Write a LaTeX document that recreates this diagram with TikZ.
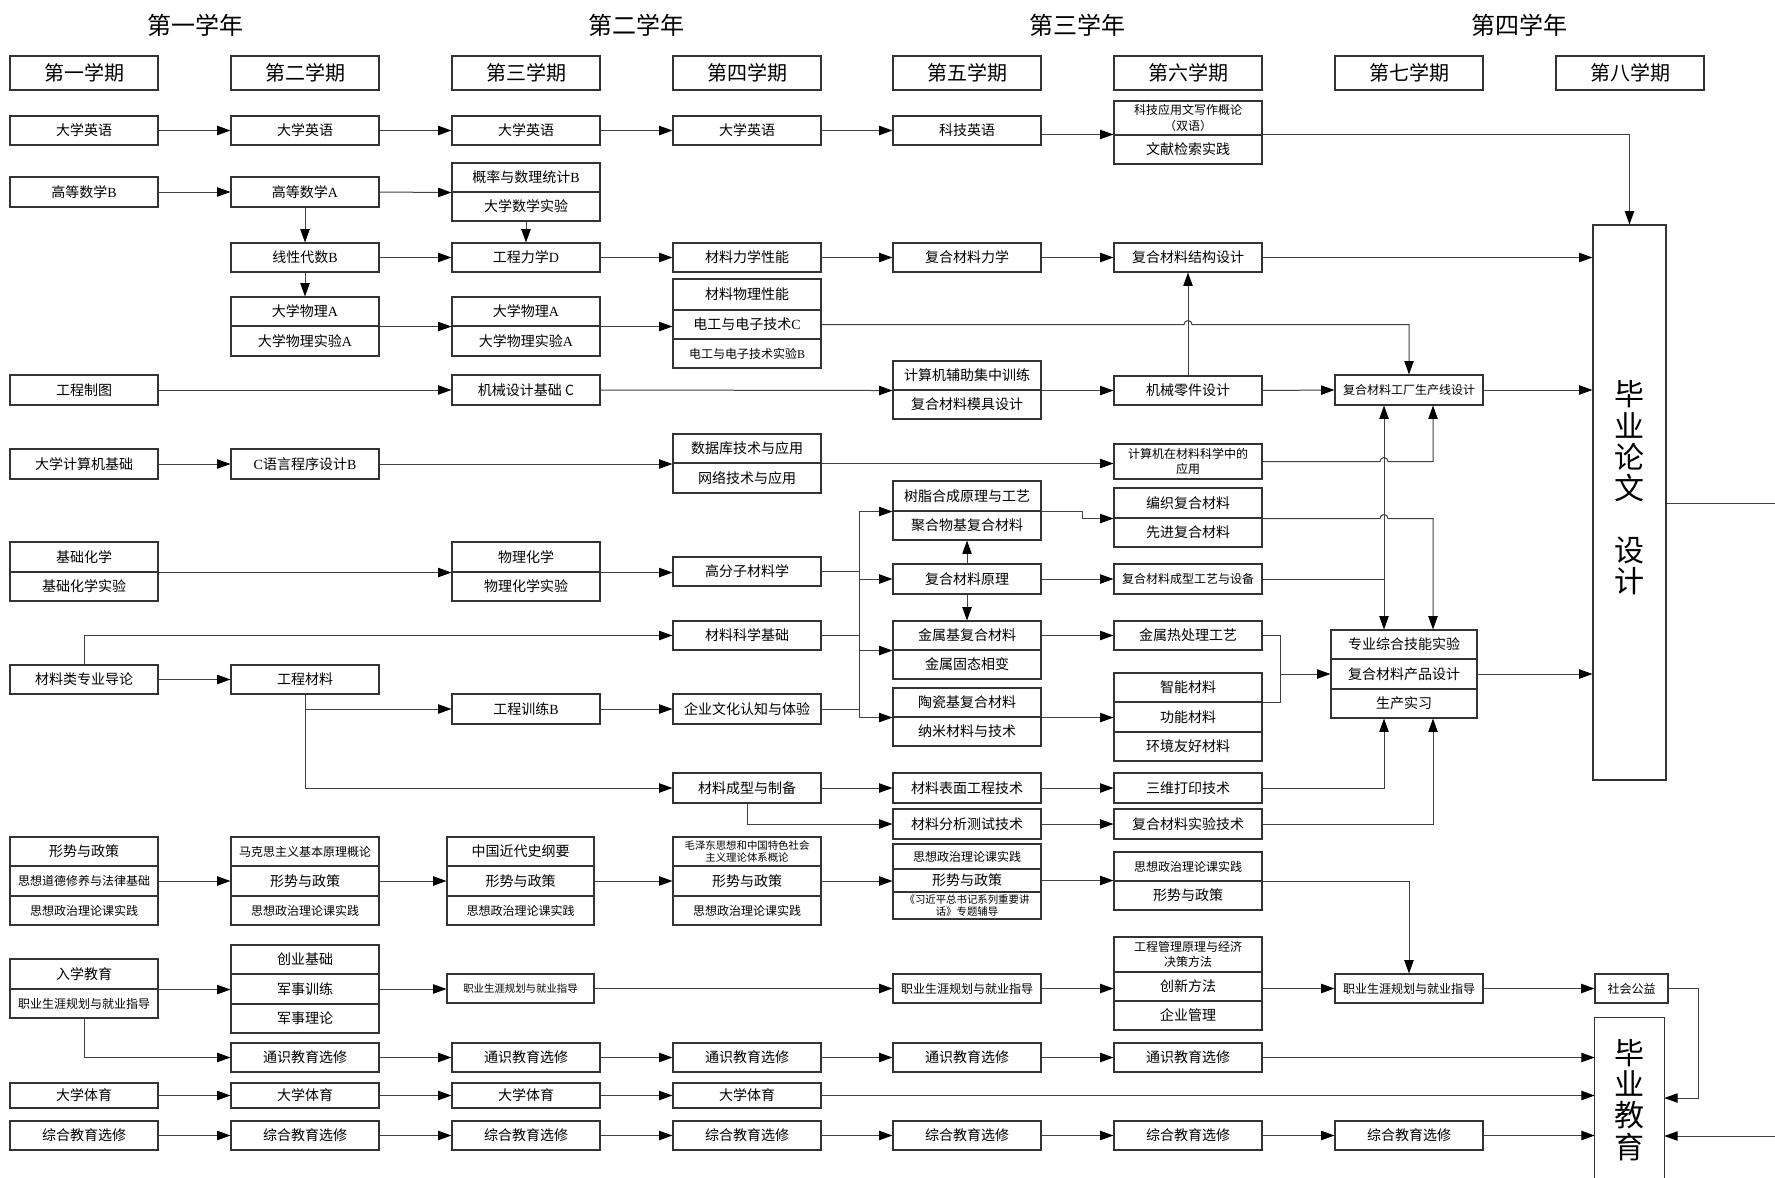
\documentclass[tikz,border=0pt]{standalone}
\usepackage{fontspec}
\setmainfont{Noto Sans CJK SC}
\newfontfamily\latf{Liberation Serif}
\newcommand\latn[1]{{\latf #1}}
\usetikzlibrary{arrows.meta,calc}
\tikzset{
  cb/.style={draw=black!80,line width=0.8pt,inner sep=0pt,align=center},
  fm/.style={font=\fontsize{10.5pt}{12.5pt}\selectfont},
  fs/.style={font=\fontsize{9pt}{11.5pt}\selectfont},
  ft/.style={font=\fontsize{7.8pt}{9.4pt}\selectfont},
  fh/.style={font=\fontsize{15pt}{18pt}\selectfont},
  fy/.style={font=\fontsize{18pt}{21pt}\selectfont},
  fth/.style={font=\fontsize{22.5pt}{23.4pt}\selectfont,align=center,inner sep=0pt},
  arr/.style={draw=black!75,line width=0.75pt,-{Triangle[length=10pt,width=7pt,color=black]}},
  ln/.style={draw=black!75,line width=0.75pt},
}
\newcommand\bx[7][148]{\node[cb,#6,minimum width={#1*0.75pt},minimum height={(#5-#4)*0.75pt}] (#2) at ({#3+#1/2},{(#4+#5)/2}) {#7};}
\begin{document}
\begin{tikzpicture}[x=0.75pt,y=-0.75pt]
\useasboundingbox (0,0) rectangle (1775,1178);
% years
\node[fy] (y1) at (195,25) {第一学年};
\node[fy] (y2) at (636,25) {第二学年};
\node[fy] (y3) at (1077,25) {第三学年};
\node[fy] (y4) at (1519,25) {第四学年};
% semesters
\bx{h1}{10}{56}{90}{fh}{第一学期}
\bx{h2}{231}{56}{90}{fh}{第二学期}
\bx{h3}{452}{56}{90}{fh}{第三学期}
\bx{h4}{673}{56}{90}{fh}{第四学期}
\bx{h5}{893}{56}{90}{fh}{第五学期}
\bx{h6}{1114}{56}{90}{fh}{第六学期}
\bx{h7}{1335}{56}{90}{fh}{第七学期}
\bx{h8}{1556}{56}{90}{fh}{第八学期}
% english
\bx{e1}{10}{116}{145}{fm}{大学英语}
\bx{e2}{231}{116}{145}{fm}{大学英语}
\bx{e3}{452}{116}{145}{fm}{大学英语}
\bx{e4}{673}{116}{145}{fm}{大学英语}
\bx{e5}{893}{116}{145}{fm}{科技英语}
\bx{e6a}{1114}{101}{135}{fs}{科技应用文写作概论\\（双语）}
\bx{e6b}{1114}{135}{164}{fm}{文献检索实践}
% math / mechanics / physics
\bx{m1}{10}{177}{207}{fm}{高等数学\latn{B}}
\bx{m2}{231}{177}{207}{fm}{高等数学\latn{A}}
\bx{m3a}{452}{163}{192}{fm}{概率与数理统计\latn{B}}
\bx{m3b}{452}{192}{221}{fm}{大学数学实验}
\bx{la2}{231}{243}{272}{fm}{线性代数\latn{B}}
\bx{me3}{452}{243}{272}{fm}{工程力学\latn{D}}
\bx{me4}{673}{243}{272}{fm}{材料力学性能}
\bx{me5}{893}{243}{272}{fm}{复合材料力学}
\bx{me6}{1114}{243}{272}{fm}{复合材料结构设计}
\bx{ph2a}{231}{297}{326}{fm}{大学物理\latn{A}}
\bx{ph2b}{231}{326}{356}{fm}{大学物理实验\latn{A}}
\bx{ph3a}{452}{297}{326}{fm}{大学物理\latn{A}}
\bx{ph3b}{452}{326}{356}{fm}{大学物理实验\latn{A}}
\bx{ph4a}{673}{279}{310}{fm}{材料物理性能}
\bx{ph4b}{673}{310}{339}{fm}{电工与电子技术\latn{C}}
\bx{ph4c}{673}{339}{368}{fs}{电工与电子技术实验\latn{B}}
% drawing
\bx{d1}{10}{375}{405}{fm}{工程制图}
\bx{d3}{452}{375}{405}{fm}{机械设计基础 C}
\bx{d5a}{893}{361}{390}{fm}{计算机辅助集中训练}
\bx{d5b}{893}{390}{419}{fm}{复合材料模具设计}
\bx{d6}{1114}{376}{405}{fm}{机械零件设计}
\bx{fa7}{1335}{375}{405}{fs}{复合材料工厂生产线设计}
% computer
\bx{c1}{10}{449}{479}{fm}{大学计算机基础}
\bx{c2}{231}{449}{479}{fm}{\latn{C}语言程序设计\latn{B}}
\bx{c4a}{673}{434}{463}{fm}{数据库技术与应用}
\bx{c4b}{673}{463}{493}{fm}{网络技术与应用}
\bx{c6}{1114}{444}{479}{fs}{计算机在材料科学中的\\应用}
% materials
\bx{r5a}{893}{481}{511}{fm}{树脂合成原理与工艺}
\bx{r5b}{893}{511}{540}{fm}{聚合物基复合材料}
\bx{r6a}{1114}{488}{518}{fm}{编织复合材料}
\bx{r6b}{1114}{518}{547}{fm}{先进复合材料}
\bx{k1a}{10}{542}{572}{fm}{基础化学}
\bx{k1b}{10}{572}{601}{fm}{基础化学实验}
\bx{k3a}{452}{542}{572}{fm}{物理化学}
\bx{k3b}{452}{572}{601}{fm}{物理化学实验}
\bx{po4}{673}{557}{586}{fm}{高分子材料学}
\bx{cp5}{893}{564}{594}{fm}{复合材料原理}
\bx{cp6}{1114}{564}{594}{fs}{复合材料成型工艺与设备}
\bx{ms4}{673}{621}{650}{fm}{材料科学基础}
\bx{mt5a}{893}{621}{650}{fm}{金属基复合材料}
\bx{mt5b}{893}{650}{679}{fm}{金属固态相变}
\bx{ht6}{1114}{621}{650}{fm}{金属热处理工艺}
\bx{i1}{10}{665}{694}{fm}{材料类专业导论}
\bx{em2}{231}{665}{694}{fm}{工程材料}
\bx{tr3}{452}{694}{724}{fm}{工程训练\latn{B}}
\bx{en4}{673}{694}{724}{fm}{企业文化认知与体验}
\bx{ce5a}{893}{688}{717}{fm}{陶瓷基复合材料}
\bx{ce5b}{893}{717}{746}{fm}{纳米材料与技术}
\bx{sm6a}{1114}{673}{702}{fm}{智能材料}
\bx{sm6b}{1114}{702}{732}{fm}{功能材料}
\bx{sm6c}{1114}{732}{761}{fm}{环境友好材料}
\bx[146]{sk7a}{1331}{630}{659}{fm}{专业综合技能实验}
\bx[146]{sk7b}{1331}{659}{689}{fm}{复合材料产品设计}
\bx[146]{sk7c}{1331}{689}{718}{fm}{生产实习}
\bx{fo4}{673}{773}{803}{fm}{材料成型与制备}
\bx{sf5}{893}{773}{803}{fm}{材料表面工程技术}
\bx{p6}{1114}{773}{803}{fm}{三维打印技术}
\bx{an5}{893}{809}{839}{fm}{材料分析测试技术}
\bx{ex6}{1114}{809}{839}{fm}{复合材料实验技术}
% politics
\bx{pa1}{10}{837}{866}{fm}{形势与政策}
\bx{pa2}{10}{866}{896}{fs}{思想道德修养与法律基础}
\bx{pa3}{10}{896}{925}{fs}{思想政治理论课实践}
\bx{pb1}{231}{837}{866}{fs}{马克思主义基本原理概论}
\bx{pb2}{231}{866}{896}{fm}{形势与政策}
\bx{pb3}{231}{896}{925}{fs}{思想政治理论课实践}
\bx[147]{pc1}{447}{837}{866}{fm}{中国近代史纲要}
\bx[147]{pc2}{447}{866}{896}{fm}{形势与政策}
\bx[147]{pc3}{447}{896}{925}{fs}{思想政治理论课实践}
\bx{pd1}{673}{837}{866}{ft}{毛泽东思想和中国特色社会\\主义理论体系概论}
\bx{pd2}{673}{866}{896}{fm}{形势与政策}
\bx{pd3}{673}{896}{925}{fs}{思想政治理论课实践}
\bx{pe1}{893}{844}{869}{fs}{思想政治理论课实践}
\bx{pe2}{893}{869}{892}{fm}{形势与政策}
\bx{pe3}{893}{892}{919}{ft}{《习近平总书记系列重要讲\\话》专题辅导}
\bx{pf1}{1114}{852}{881}{fs}{思想政治理论课实践}
\bx{pf2}{1114}{881}{910}{fm}{形势与政策}
% career
\bx{ca1}{10}{959}{989}{fm}{入学教育}
\bx{ca2}{10}{989}{1018}{fs}{职业生涯规划与就业指导}
\bx{cb1}{231}{945}{974}{fm}{创业基础}
\bx{cb2}{231}{974}{1004}{fm}{军事训练}
\bx{cb3}{231}{1004}{1033}{fm}{军事理论}
\bx[147]{cc3}{447}{974}{1003}{ft}{职业生涯规划与就业指导}
\bx{cd5}{893}{974}{1003}{fs}{职业生涯规划与就业指导}
\bx{cf6a}{1114}{937}{972}{fs}{工程管理原理与经济\\决策方法}
\bx{cf6b}{1114}{972}{1001}{fm}{创新方法}
\bx{cf6c}{1114}{1001}{1030}{fm}{企业管理}
\bx{cr7}{1335}{974}{1003}{fs}{职业生涯规划与就业指导}
\bx[73]{so8}{1595}{974}{1003}{fs}{社会公益}
% general
\bx{g2}{231}{1043}{1072}{fm}{通识教育选修}
\bx{g3}{452}{1043}{1072}{fm}{通识教育选修}
\bx{g4}{673}{1043}{1072}{fm}{通识教育选修}
\bx{g5}{893}{1043}{1072}{fm}{通识教育选修}
\bx{g6}{1114}{1043}{1072}{fm}{通识教育选修}
\bx{s1}{10}{1083}{1108}{fm}{大学体育}
\bx{s2}{231}{1083}{1108}{fm}{大学体育}
\bx{s3}{452}{1083}{1108}{fm}{大学体育}
\bx{s4}{673}{1083}{1108}{fm}{大学体育}
\bx{z1}{10}{1121}{1150}{fm}{综合教育选修}
\bx{z2}{231}{1121}{1150}{fm}{综合教育选修}
\bx{z3}{452}{1121}{1150}{fm}{综合教育选修}
\bx{z4}{673}{1121}{1150}{fm}{综合教育选修}
\bx{z5}{893}{1121}{1150}{fm}{综合教育选修}
\bx{z6}{1114}{1121}{1150}{fm}{综合教育选修}
\bx{z7}{1335}{1121}{1150}{fm}{综合教育选修}
% thesis and graduation
\bx[73]{th}{1593}{225}{780}{}{}
\node[fth] (thl) at (1629.5,488) {毕\\业\\论\\文\\[23pt]设\\计};
\node[inner sep=0pt,minimum width={69*0.75pt},minimum height={160*0.75pt}] (gr) at (1629.5,1098) {};
\draw[cb] (gr.south west) -- (gr.north west) -- (gr.north east) -- (gr.south east);
\node[fth] (grl) at (1629.5,1100) {毕\\业\\教\\育};
% helper coordinates
\coordinate (xa) at (1384,0);
\coordinate (xb) at (1433,0);
\coordinate (bus) at (859,0);
\coordinate (bk) at (1280,0);
\coordinate (sx) at (1698,0);
\coordinate (rt) at (1775,503);
\coordinate (rb) at (1775,1136);
% english connectors
\draw[arr] (e1.east) -- (e2.west);
\draw[arr] (e2.east) -- (e3.west);
\draw[arr] (e3.east) -- (e4.west);
\draw[arr] (e4.east) -- (e5.west);
\draw[arr] (e5.east |- e6b.north) -- (e6b.north west);
\draw[arr] (e6b.north east) -| (th.north);
% math
\draw[arr] (m1.east) -- (m2.west);
\draw[arr] (m2.east) -- (m3a.south west);
\draw[arr] (m2.south) -- (la2.north);
\draw[arr] (m3b.south) -- (me3.north);
\draw[arr] (la2.east) -- (me3.west);
\draw[arr] (me3.east) -- (me4.west);
\draw[arr] (me4.east) -- (me5.west);
\draw[arr] (me5.east) -- (me6.west);
\draw[arr] (me6.east) -- (me6.east -| th.west);
\draw[arr] (la2.south) -- (ph2a.north);
\draw[arr] (ph2a.south east) -- (ph3a.south west);
\draw[arr] (ph3a.south east) -- (ph3a.south east -| ph4b.west);
\draw[arr] (ph4b.east) -- ($(ph4b.east -| d6.north)+(-4,0)$) arc[start angle=180,end angle=0,radius=3pt] -| (fa7.north);
% drawing
\draw[arr] (d1.east) -- (d3.west);
\draw[arr] (d3.east) -- (d5a.south west);
\draw[arr] (d5a.south east) -- (d5a.south east -| d6.west);
\draw[arr] (d6.east) -- (fa7.west);
\draw[arr] (fa7.east) -- (fa7.east -| th.west);
\draw[arr] (d6.north) -- (me6.south);
% computer
\draw[arr] (c1.east) -- (c2.west);
\draw[arr] (c2.east) -- (c2.east -| c4a.west);
\draw[arr] (c4a.south east) -- (c4a.south east -| c6.west);
\draw[arr] (c6.east) -- ($(c6.east -| xa)+(-4,0)$) arc[start angle=180,end angle=0,radius=3pt] -| (xb |- fa7.south);
% materials
\draw[arr] (r5a.south east) -- ++(41,0) |- (r6a.south west);
\draw[arr] (r6a.south east) -- ($(r6a.south east -| xa)+(-4,0)$) arc[start angle=180,end angle=0,radius=3pt] -| (xb |- sk7a.north);
\draw[arr] (k1a.south east) -- (k3a.south west);
\draw[arr] (k3a.south east) -- (k3a.south east -| po4.west);
\draw[ln] (po4.east) -- (po4.east -| bus);
\draw[ln] (ms4.east) -- (ms4.east -| bus);
\draw[ln] (en4.east) -- (en4.east -| bus);
\draw[ln] (bus |- r5a.south) -- (bus |- ce5a.south);
\draw[arr] (bus |- r5a.south) -- (r5a.south west);
\draw[arr] (bus |- cp5.west) -- (cp5.west);
\draw[arr] (bus |- mt5a.south) -- (mt5a.south west);
\draw[arr] (bus |- ce5a.south) -- (ce5a.south west);
\draw[arr] (cp5.north) -- (r5b.south);
\draw[arr] (cp5.south) -- (mt5a.north);
\draw[arr] (cp5.east) -- (cp6.west);
\draw[ln] (cp6.east) -- (cp6.east -| xa);
\draw[arr] (cp6.east -| xa) -- (xa |- fa7.south);
\draw[arr] (cp6.east -| xa) -- (xa |- sk7a.north);
\draw[arr] (mt5a.east) -- (ht6.west);
\draw[arr] (ce5a.south east) -- (ce5a.south east -| sm6b.west);
\draw[ln] (ht6.east) -| (bk |- sm6a.south) -- (sm6a.south east);
\draw[arr] (bk |- sk7b.west) -- (sk7b.west);
\draw[arr] (sk7b.east) -- (sk7b.east -| th.west);
\draw[arr] (i1.east) -- (em2.west);
\draw[arr] (i1.north) |- (ms4.west);
\draw[arr] (em2.south) |- (tr3.west);
\draw[arr] (em2.south) |- (fo4.west);
\draw[arr] (tr3.east) -- (en4.west);
\draw[arr] (fo4.east) -- (sf5.west);
\draw[arr] (sf5.east) -- (p6.west);
\draw[arr] (p6.east) -| (xa |- sk7c.south);
\draw[arr] (fo4.south) |- (an5.west);
\draw[arr] (an5.east) -- (ex6.west);
\draw[arr] (ex6.east) -| (xb |- sk7c.south);
% politics
\draw[arr] (pa2.east) -- (pb2.west);
\draw[arr] (pb2.east) -- (pc2.west);
\draw[arr] (pc2.east) -- (pd2.west);
\draw[arr] (pd2.east) -- (pd2.east -| pe2.west);
\draw[arr] (pe2.east) -- (pe2.east -| pf1.west);
\draw[arr] (pf1.south east) -| (cr7.north);
% career
\draw[arr] (ca1.south east) -- (ca1.south east -| cb2.west);
\draw[arr] (cb2.east) -- (cb2.east -| cc3.west);
\draw[arr] (cc3.east) -- (cd5.west);
\draw[arr] (cd5.east) -- (cd5.east -| cf6b.west);
\draw[arr] (cr7.west -| cf6b.east) -- (cr7.west);
\draw[arr] (cr7.east) -- (so8.west);
\draw[arr] (so8.east) -| (sx |- gr.east) -- (gr.east);
% general
\draw[arr] (ca2.south) |- (g2.west);
\draw[arr] (g2.east) -- (g3.west);
\draw[arr] (g3.east) -- (g4.west);
\draw[arr] (g4.east) -- (g5.west);
\draw[arr] (g5.east) -- (g6.west);
\draw[arr] (g6.east) -- (g6.east -| gr.west);
\draw[arr] (s1.east) -- (s2.west);
\draw[arr] (s2.east) -- (s3.west);
\draw[arr] (s3.east) -- (s4.west);
\draw[arr] (s4.east) -- (s4.east -| gr.west);
\draw[arr] (z1.east) -- (z2.west);
\draw[arr] (z2.east) -- (z3.west);
\draw[arr] (z3.east) -- (z4.west);
\draw[arr] (z4.east) -- (z5.west);
\draw[arr] (z5.east) -- (z6.west);
\draw[arr] (z6.east) -- (z7.west);
\draw[arr] (z7.east) -- (z7.east -| gr.west);
\draw[ln] (th.east |- rt) -- (rt);
\draw[arr] (rb) -- (rb -| gr.east);
\end{tikzpicture}
\end{document}
